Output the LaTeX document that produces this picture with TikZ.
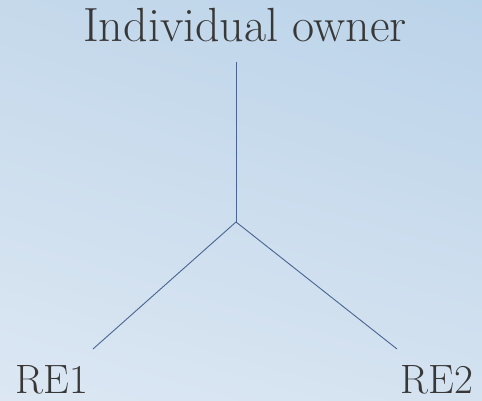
\documentclass[tikz,border=0pt]{standalone}
\usetikzlibrary{shadings}
\definecolor{txt}{HTML}{383838}
\definecolor{ln}{HTML}{4A6491}
\definecolor{bgtl}{HTML}{C5D9EB}
\definecolor{bgtr}{HTML}{BBD3E9}
\definecolor{bgbl}{HTML}{DCE7F3}
\definecolor{bgbr}{HTML}{D4E2F0}
\begin{document}
\begin{tikzpicture}[x=1pt,y=-1pt,
  lbl/.style={text=txt,anchor=base,inner sep=0pt},
  conn/.style={draw=ln,line width=0.9pt}]
\useasboundingbox (0,0) rectangle (482,401);
\shade[upper left=bgtl,upper right=bgtr,lower left=bgbl,lower right=bgbr] (0,0) rectangle (482,401);
\node[lbl,font=\fontsize{48}{56}\selectfont] (owner) at (245,42) {Individual owner};
\node[lbl,font=\fontsize{41}{48}\selectfont] (re1) at (52,393) {RE1};
\node[lbl,font=\fontsize{41}{48}\selectfont] (re2) at (437,393) {RE2};
\coordinate (top) at (236,62);
\coordinate (j) at (236,222);
\coordinate (e1) at (93,349);
\coordinate (e2) at (397,349);
\draw[conn] (top) -- (j);
\draw[conn] (j) -- (e1);
\draw[conn] (j) -- (e2);
\end{tikzpicture}
\end{document}
